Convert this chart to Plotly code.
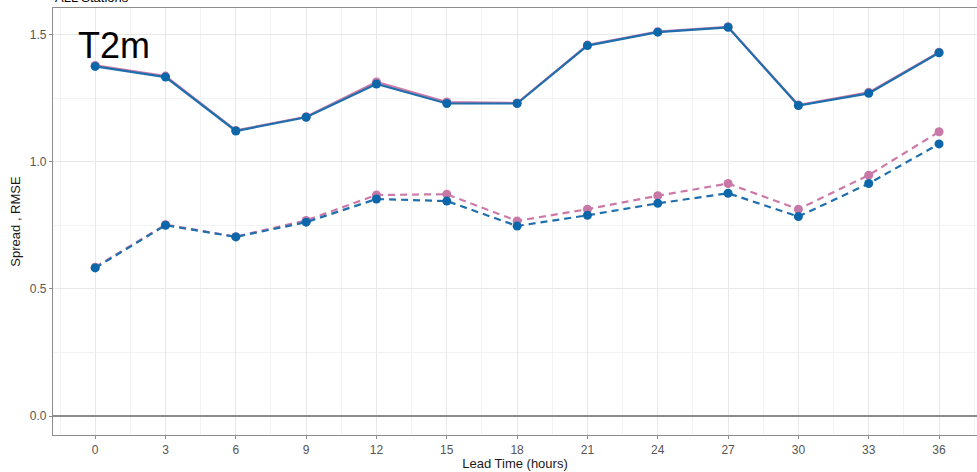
import plotly.graph_objects as go

lead_time = [0, 3, 6, 9, 12, 15, 18, 21, 24, 27, 30, 33, 36]
rmse_blue = [1.376, 1.334, 1.122, 1.176, 1.307, 1.230, 1.230, 1.458, 1.511, 1.530, 1.222, 1.270, 1.430]
rmse_pink = [1.380, 1.338, 1.124, 1.178, 1.315, 1.236, 1.232, 1.460, 1.513, 1.532, 1.224, 1.274, 1.432]
spread_blue = [0.583, 0.751, 0.705, 0.763, 0.854, 0.846, 0.748, 0.790, 0.837, 0.877, 0.785, 0.915, 1.071]
spread_pink = [0.586, 0.753, 0.706, 0.770, 0.870, 0.873, 0.768, 0.814, 0.867, 0.915, 0.814, 0.948, 1.119]
x_ticks = [0, 3, 6, 9, 12, 15, 18, 21, 24, 27, 30, 33, 36]
y_ticks = [0.0, 0.5, 1.0, 1.5]

BLUE_LINE = "#1f6fad"
BLUE_PT = "#0b67aa"
PINK_LINE = "#cc79a7"
PINK_PT = "#c878a6"

fig = go.Figure()

def add(y, lc, pc, dash):
    fig.add_trace(go.Scatter(
        x=lead_time, y=y, mode="lines+markers",
        line=dict(color=lc, width=2.2, dash=dash),
        marker=dict(color=pc, size=9),
        showlegend=False, hoverinfo="x+y"))

add(spread_pink, PINK_LINE, PINK_PT, "7px,5px")
add(rmse_pink, PINK_LINE, PINK_PT, "solid")
add(spread_blue, BLUE_LINE, BLUE_PT, "7px,5px")
add(rmse_blue, BLUE_LINE, BLUE_PT, "solid")

fig.add_annotation(x=-0.8, y=1.46, xref="x", yref="y", text="T2m",
                   showarrow=False, xanchor="left", yanchor="middle",
                   font=dict(size=36, color="black", family="Liberation Sans, Arial"))
fig.add_annotation(x=0, y=1, xref="paper", yref="paper", text="ALL Stations",
                   showarrow=False, xanchor="left", yanchor="bottom", yshift=1,
                   font=dict(size=13, color="black", family="Liberation Sans, Arial"))

fig.update_layout(
    width=977, height=472,
    margin=dict(l=53, r=0, t=8, b=37),
    paper_bgcolor="white", plot_bgcolor="white",
    font=dict(family="Liberation Sans, Arial", size=12, color="#555555"),
    xaxis=dict(
        range=[-1.8, 37.62], tickvals=x_ticks, ticktext=[str(v) for v in x_ticks],
        showgrid=True, gridcolor="#e8e8e8", gridwidth=1.1,
        minor=dict(dtick=1.5, tick0=0, showgrid=True, gridcolor="#f3f3f3", gridwidth=0.6),
        showline=True, linecolor="#8c8c8c", linewidth=1.2, mirror=True,
        ticks="outside", ticklen=3, tickcolor="#8c8c8c",
        zeroline=False,
        tickfont=dict(size=12, color="#555555"),
        title=dict(text="Lead Time (hours)", font=dict(size=13, color="#1a1a1a"), standoff=3),
    ),
    yaxis=dict(
        range=[-0.0748, 1.606], tickvals=y_ticks, tickformat=".1f",
        showgrid=True, gridcolor="#e8e8e8", gridwidth=1.1,
        minor=dict(dtick=0.25, tick0=0, showgrid=True, gridcolor="#f3f3f3", gridwidth=0.6),
        showline=True, linecolor="#8c8c8c", linewidth=1.2,
        ticks="outside", ticklen=3, tickcolor="#8c8c8c",
        zeroline=True, zerolinecolor="#8c8c8c", zerolinewidth=1.5,
        tickfont=dict(size=12, color="#555555"),
        title=dict(text="Spread , RMSE", font=dict(size=13, color="#1a1a1a"), standoff=6),
    ),
)

fig.write_html("out.html")
